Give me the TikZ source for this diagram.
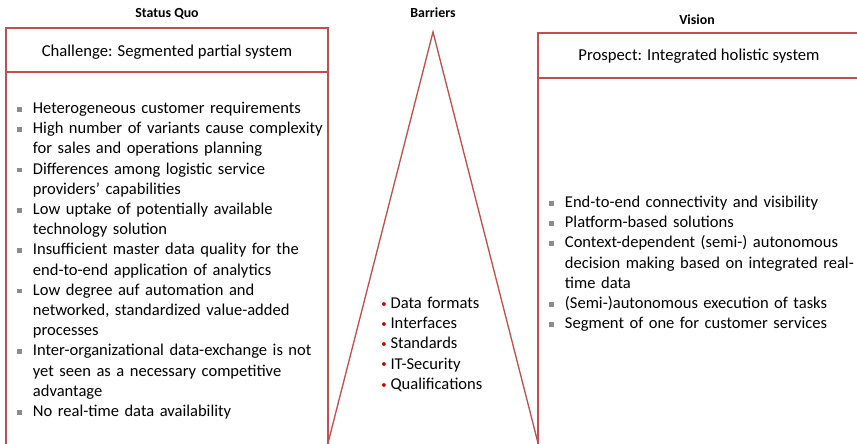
\documentclass[tikz,border=0pt]{standalone}
\usepackage{fontspec}
\setmainfont{Carlito}
\definecolor{boxred}{RGB}{192,80,77}
\definecolor{dotred}{RGB}{192,0,0}
\definecolor{bulletgray}{RGB}{140,140,140}
\newcommand{\sqbullet}{\textcolor{bulletgray}{\rule[1.4pt]{3.4pt}{3.4pt}}}
\newcommand{\reddot}{\textcolor{dotred}{\fontsize{8}{8}\selectfont\raisebox{0.9pt}{\textbullet}}}
\newenvironment{pointlist}[3]{%
  \begin{list}{#1}{\setlength{\leftmargin}{#2}\setlength{\labelsep}{#3}%
    \setlength{\labelwidth}{\dimexpr#2-#3\relax}\setlength{\itemsep}{0pt}%
    \setlength{\parsep}{0pt}\setlength{\topsep}{0pt}\setlength{\partopsep}{0pt}}}%
  {\end{list}}
\begin{document}
\begin{tikzpicture}
[x=0.75pt,y=-0.75pt,
  framedecorate/.style={draw=boxred,line width=1pt},%
  titledecorate/.style={font=\fontsize{10.4}{12}\selectfont\bfseries},%
  headdecorate/.style={font=\fontsize{12.5}{14}\selectfont},%
  listdecorate/.style={inner sep=0pt,anchor=north west,text width=#1,
    align=left,font=\fontsize{12.4}{15.15}\selectfont}]
\useasboundingbox (0,0) rectangle (857,443);
\clip (0,0) rectangle (857,443);
%% frames
\draw[framedecorate] (6,450) -- (6,28) -- (328,28) -- (328,450);
\draw[framedecorate] (6,72) -- (328,72);
\draw[framedecorate] (328,443) -- (433,32) -- (538,443);
\draw[framedecorate] (538,450) -- (538,33) -- (870,33);
\draw[framedecorate] (538,78) -- (870,78);
%% titles and headers
\node (statusquo) at (167,14) [titledecorate] {Status Quo};
\node (barriers) at (433,13) [titledecorate] {Barriers};
\node (vision) at (697,20) [titledecorate] {Vision};
\node (challenge) at (167,52.5) [headdecorate] {Challenge: Segmented partial system};
\node (prospect) at (699,56.5) [headdecorate] {Prospect: Integrated holistic system};
%% lists
\node (challengelist) at (14,93) [listdecorate=250pt] {%
  \begin{pointlist}{\sqbullet}{14pt}{8.5pt}
  \item Heterogeneous customer requirements
  \item High number of variants cause complexity\newline for sales and operations planning
  \item Differences among logistic service\newline providers’ capabilities
  \item Low uptake of potentially available\newline technology solution
  \item Insufficient master data quality for the\newline end-to-end application of analytics
  \item Low degree auf automation and\newline networked, standardized value-added\newline processes
  \item Inter-organizational data-exchange is not\newline yet seen as a necessary competitive\newline advantage
  \item No real-time data availability
  \end{pointlist}};
\node (barrierlist) at (381,288) [listdecorate=112pt] {%
  \begin{pointlist}{\reddot}{6pt}{3pt}
  \item Data formats
  \item Interfaces
  \item Standards
  \item IT-Security
  \item Qualifications
  \end{pointlist}};
\node (prospectlist) at (546,187) [listdecorate=250pt] {%
  \begin{pointlist}{\sqbullet}{14pt}{8.5pt}
  \item End-to-end connectivity and visibility
  \item Platform-based solutions
  \item Context-dependent (semi-) autonomous\newline decision making based on integrated real-\newline time data
  \item (Semi-)autonomous execution of tasks
  \item Segment of one for customer services
  \end{pointlist}};
\end{tikzpicture}
\end{document}
